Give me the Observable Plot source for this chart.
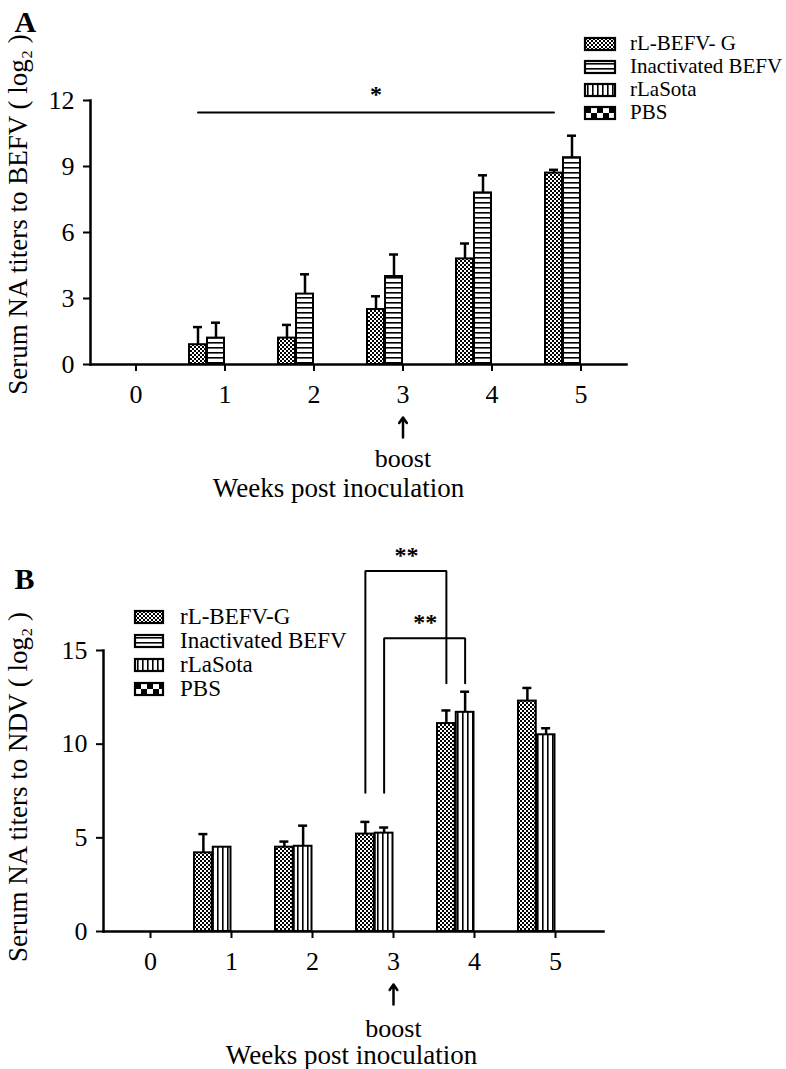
<!DOCTYPE html>
<html><head><meta charset="utf-8">
<script src="https://cdn.jsdelivr.net/npm/d3@7"></script>
<script src="https://cdn.jsdelivr.net/npm/@observablehq/plot@0.6"></script>
<style>
html,body{margin:0;padding:0;background:#fff;}
#root{position:relative;width:786px;height:1069px;overflow:hidden;background:#fff;}
.panel{position:absolute;left:0;}
.leg{position:absolute;}
.leg, .leg *{font-family:"Liberation Serif","Times New Roman",serif !important;color:#000 !important;}
.leg > div{margin:0 !important;width:260px !important;columns:auto !important;}
.leg [class$="-swatch"]{display:flex !important;align-items:center !important;padding:0 !important;margin:0 !important;}
.leg svg{overflow:visible !important;flex-shrink:0;}
.leg svg rect{stroke:#000;stroke-width:2.2px;}
#legA{left:585px;top:32px;}
#legA, #legA *{font-size:21px !important;}
#legA [class$="-swatch"]{height:23px !important;}
#legA svg{margin-right:15px !important;}
#legB{left:135px;top:605px;}
#legB, #legB *{font-size:23px !important;}
#legB [class$="-swatch"]{height:24px !important;}
#legB svg{margin-right:17px !important;}
</style></head>
<body>
<svg width="0" height="0" style="position:absolute">
  <defs>
    <pattern id="pG" patternUnits="userSpaceOnUse" width="4" height="4">
      <rect width="4" height="4" fill="#fff"/><rect width="2" height="2" fill="#000"/><rect x="2" y="2" width="2" height="2" fill="#000"/>
    </pattern>
    <pattern id="pI" patternUnits="userSpaceOnUse" width="4" height="5">
      <rect width="4" height="5" fill="#fff"/><rect y="2" width="4" height="1.6" fill="#000"/>
    </pattern>
    <pattern id="pR" patternUnits="userSpaceOnUse" width="5" height="4">
      <rect width="5" height="4" fill="#fff"/><rect x="2" width="1.6" height="4" fill="#000"/>
    </pattern>
    <pattern id="pP" patternUnits="userSpaceOnUse" width="12" height="12">
      <rect width="12" height="12" fill="#fff"/><rect width="6" height="6" fill="#000"/><rect x="6" y="6" width="6" height="6" fill="#000"/>
    </pattern>
  </defs>
</svg>
<div id="root">
  <div id="panelA" class="panel" style="top:0px"></div>
  <div id="panelB" class="panel" style="top:520px"></div>
  <div id="legA" class="leg"></div>
  <div id="legB" class="leg"></div>
</div>
<script>
// ---------- data ----------
const weeks = ["0", "1", "2", "3", "4", "5"];
const seriesA = ["rL-BEFV- G", "Inactivated BEFV", "rLaSota", "PBS"];
const seriesB = ["rL-BEFV-G", "Inactivated BEFV", "rLaSota", "PBS"];
const patternFills = ["url(#pG)", "url(#pI)", "url(#pR)", "url(#pP)"];

// Panel A: serum NA titers to BEFV (log2)
const aRLBEFVG        = [0, 0.9, 1.2, 2.5, 4.8, 8.7];
const aRLBEFVGErr     = [0, 0.8, 0.6, 0.6, 0.7, 0.15];
const aInactivated    = [0, 1.2, 3.2, 4.0, 7.8, 9.4];
const aInactivatedErr = [0, 0.7, 0.9, 1.0, 0.8, 1.0];
const aRLaSota        = [0, 0, 0, 0, 0, 0];
const aRLaSotaErr     = [0, 0, 0, 0, 0, 0];
const aPBS            = [0, 0, 0, 0, 0, 0];
const aPBSErr         = [0, 0, 0, 0, 0, 0];

// Panel B: serum NA titers to NDV (log2)
const bRLBEFVG        = [0, 4.2, 4.5, 5.2, 11.1, 12.3];
const bRLBEFVGErr     = [0, 1.0, 0.3, 0.65, 0.7, 0.7];
const bInactivated    = [0, 0, 0, 0, 0, 0];
const bInactivatedErr = [0, 0, 0, 0, 0, 0];
const bRLaSota        = [0, 4.5, 4.55, 5.25, 11.7, 10.5];
const bRLaSotaErr     = [0, 0, 1.1, 0.3, 1.1, 0.35];
const bPBS            = [0, 0, 0, 0, 0, 0];
const bPBSErr         = [0, 0, 0, 0, 0, 0];

const yTicksA = [0, 3, 6, 9, 12];
const yTicksB = [0, 5, 10, 15];

const yLabelA = "Serum NA titers to BEFV ( log\u2082 )";
const yLabelB = "Serum NA titers to NDV ( log\u2082 )";
const xLabel = "Weeks post inoculation";
const boostWeek = "3";
const boostLabel = "boost";

// significance annotations (values in log2 units)
const sigA = [{from: "1", to: "5", series: "rL-BEFV- G", level: 11.45, label: "*"}];
const sigB = [
  {from: "3", to: "4", series: "rL-BEFV-G", low: 7.4, top: 19.25, high: 13.25, label: "**"},
  {from: "3", to: "4", series: "rLaSota",   low: 7.4, top: 15.65, high: 13.25, label: "**"}
];

// ---------- drawing ----------
const W = 786;
const serif = '"Liberation Serif","Times New Roman",serif';

function drawPanel(cfg) {
  const {series, slots, vals, errs, H, ml, mr, mt, mb, yDomain, yTicks, padIn, padOut} = cfg;
  const rows = series.flatMap((s, i) => weeks.map((w, k) => ({week: w, series: s, value: vals[i][k], err: errs[i][k]})));
  const band = d3.scaleBand(weeks, [ml, W - mr]).paddingInner(padIn).paddingOuter(padOut);
  const bw = band.bandwidth(), step = band.step(), n = slots.length, slotW = bw / n;
  const off = s => (slots.indexOf(s) + 0.5) * slotW - bw / 2;
  const capHalf = 5;
  const marks = [];
  slots.forEach((s, j) => {
    const d = rows.filter(r => r.series === s && r.value > 0);
    const e = d.filter(r => r.err > 0);
    marks.push(
      Plot.barY(d, {x: "week", y: "value", fill: "series", stroke: "#000", strokeWidth: 2,
        insetLeft: j * slotW, insetRight: (n - 1 - j) * slotW}),
      Plot.ruleX(e, {x: "week", y1: "value", y2: r => r.value + r.err, dx: off(s), stroke: "#000", strokeWidth: 2.5}),
      Plot.tickY(e, {x: "week", y: r => r.value + r.err, stroke: "#000", strokeWidth: 2.5,
        insetLeft: j * slotW + slotW / 2 - capHalf, insetRight: (n - 1 - j) * slotW + slotW / 2 - capHalf})
    );
  });
  marks.push(
    Plot.frame({anchor: "left", stroke: "#000", strokeWidth: 2.5}),
    Plot.frame({anchor: "bottom", stroke: "#000", strokeWidth: 2.5}),
    Plot.axisY({ticks: yTicks, tickSize: 7, tickPadding: cfg.yTickPad, stroke: "#000", strokeWidth: 2, fontSize: cfg.tickFont, label: null}),
    Plot.axisX({tickSize: 7, tickPadding: cfg.xTickPad, stroke: "#000", strokeWidth: 2, fontSize: cfg.tickFont, label: null}),
    Plot.text([cfg.letter], {frameAnchor: "top-left", dx: cfg.letterDx, dy: cfg.letterDy, fontSize: 30, fontWeight: "bold", textAnchor: "start", lineAnchor: "top"}),
    Plot.text([cfg.yLabel], {frameAnchor: "left", rotate: -90, dx: cfg.yLabelDx, dy: cfg.yLabelDy, fontSize: 27, textAnchor: "middle", lineAnchor: "middle"}),
    Plot.text([xLabel], {frameAnchor: "bottom", dx: cfg.xLabelDx, dy: 124, fontSize: 27, textAnchor: "middle", lineAnchor: "middle"}),
    Plot.text([boostLabel], {x: () => boostWeek, y: 0, dy: cfg.boostDy, fontSize: 26, lineAnchor: "middle"}),
    Plot.arrow([boostWeek], {x1: d => d, x2: d => d, y1: cfg.arrowLow, y2: cfg.arrowHigh, stroke: "#000", strokeWidth: 2.5, headLength: 10, headAngle: 70})
  );
  (cfg.sigLines || []).forEach(sg => {
    marks.push(
      Plot.line([{week: sg.from, v: sg.level}, {week: sg.to, v: sg.level}], {x: "week", y: "v", dx: off(sg.series), stroke: "#000", strokeWidth: 2}),
      Plot.text([sg], {x: d => weeks[Math.round((weeks.indexOf(d.from) + weeks.indexOf(d.to)) / 2)], y: "level", dx: off(sg.series), dy: -18, text: "label", fontSize: 24, fontWeight: "bold"})
    );
  });
  (cfg.brackets || []).forEach(sg => {
    marks.push(
      Plot.line([{week: sg.from, v: sg.low}, {week: sg.from, v: sg.top}, {week: sg.to, v: sg.top}, {week: sg.to, v: sg.high}],
        {x: "week", y: "v", dx: off(sg.series), stroke: "#000", strokeWidth: 2, strokeLinejoin: "miter", curve: "linear"}),
      Plot.text([sg], {x: "from", y: "top", dx: step / 2 + off(sg.series), dy: -16, text: "label", fontSize: 24, fontWeight: "bold"})
    );
  });
  const chart = Plot.plot({
    width: W, height: H, marginLeft: ml, marginRight: mr, marginTop: mt, marginBottom: mb,
    x: {type: "band", domain: weeks, paddingInner: padIn, paddingOuter: padOut},
    y: {domain: yDomain},
    color: {type: "ordinal", domain: series, range: patternFills},
    style: {fontFamily: serif, fontSize: "24px", color: "#000", background: "#fff", overflow: "visible"},
    marks
  });
  document.getElementById(cfg.target).append(chart);
  const leg = chart.legend("color", {columns: 1, swatchWidth: cfg.swW, swatchHeight: 12, className: cfg.legClass});
  document.getElementById(cfg.legTarget).append(leg);
}

drawPanel({
  target: "panelA", legTarget: "legA", legClass: "lgA", swW: 30,
  series: seriesA, slots: ["rL-BEFV- G", "Inactivated BEFV", "rLaSota", "PBS"],
  vals: [aRLBEFVG, aInactivated, aRLaSota, aPBS], errs: [aRLBEFVGErr, aInactivatedErr, aRLaSotaErr, aPBSErr],
  H: 520, ml: 90, mr: 160, mt: 100, mb: 156, yDomain: [0, 12], yTicks: yTicksA,
  padIn: 0.2, padOut: 0.078, tickFont: 26, yTickPad: 9, xTickPad: 13,
  letter: "A", letterDx: -76, letterDy: -90,
  yLabel: yLabelA, yLabelDx: -72, yLabelDy: -18, xLabelDx: -20,
  boostDy: 94, arrowLow: -3.32, arrowHigh: -2.41,
  sigLines: sigA
});

drawPanel({
  target: "panelB", legTarget: "legB", legClass: "lgB", swW: 28,
  series: seriesB, slots: ["rL-BEFV-G", "rLaSota", "Inactivated BEFV", "PBS"],
  vals: [bRLBEFVG, bInactivated, bRLaSota, bPBS], errs: [bRLBEFVGErr, bInactivatedErr, bRLaSotaErr, bPBSErr],
  H: 549, ml: 103, mr: 183, mt: 130, mb: 138, yDomain: [0, 15], yTicks: yTicksB,
  padIn: 0.0854, padOut: 0.0915, tickFont: 26, yTickPad: 9, xTickPad: 13,
  letter: "B", letterDx: -89, letterDy: -83,
  yLabel: yLabelB, yLabelDx: -85, yLabelDy: -4, xLabelDx: -2,
  boostDy: 97, arrowLow: -3.9, arrowHigh: -2.83,
  brackets: sigB
});
</script>
</body></html>
